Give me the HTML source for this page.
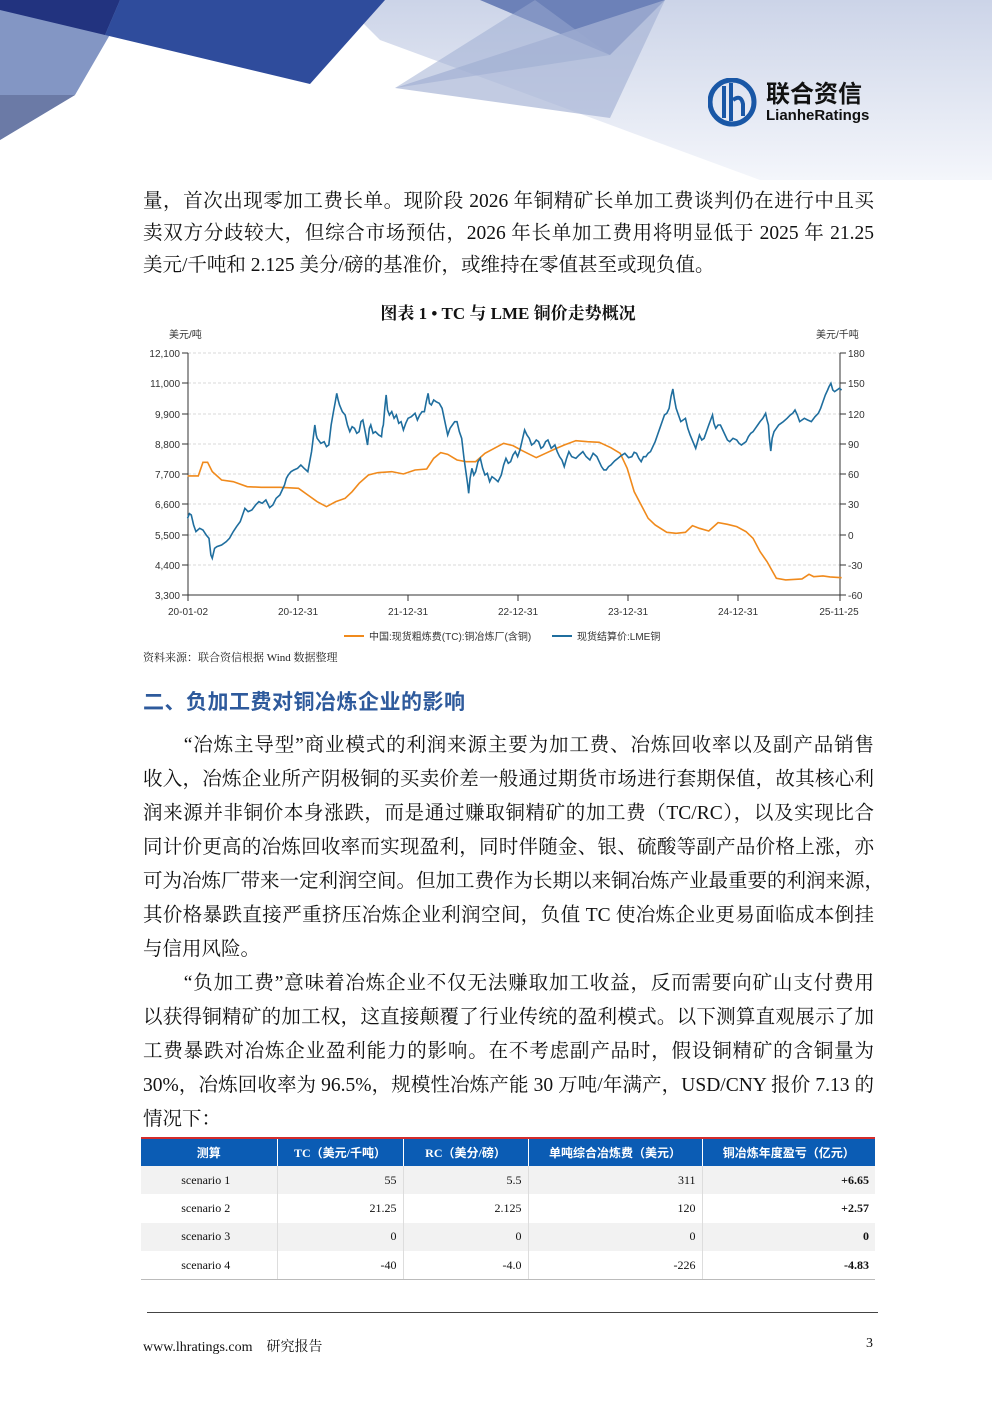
<!DOCTYPE html>
<html><head><meta charset="utf-8"><style>
*{margin:0;padding:0;box-sizing:border-box}
body{width:992px;height:1403px;position:relative;background:#fff;overflow:hidden;font-family:"Liberation Serif","Noto Serif CJK SC",serif;color:#111}
.l{position:absolute;left:143px;width:731px;font-size:19.5px;line-height:34px;height:34px;white-space:nowrap;text-align:justify;text-align-last:justify}
.l.e{text-align-last:left}
.ab{position:absolute}
table{position:absolute;left:141px;top:1137px;width:734px;border-collapse:collapse;font-size:12px;border-top:2px solid #d42b2b}
th{background:#0b5cb4;color:#fff;height:28px;font-weight:bold;border-left:1px solid #fff;font-family:"Liberation Serif","Noto Sans CJK SC",serif}
th:first-child{border-left:none}
td{height:28.4px;text-align:right;padding-right:6px;border-left:1px solid #ddd}
td:first-child{text-align:center;border-left:none}
tr:nth-child(even) td{background:#f2f2f2}
tr:last-child td{border-bottom:1px solid #bbb}
td.b{font-weight:bold}
</style></head><body>
<svg class="ab" style="left:0;top:0" width="992" height="180">
<defs><linearGradient id="bg" x1="0" y1="0" x2="0" y2="1"><stop offset="0" stop-color="#ccd4e8"/><stop offset="1" stop-color="#f4f6fb"/></linearGradient></defs>
<rect width="992" height="180" fill="#fff"/>
<polygon points="340,0 992,0 992,180 760,180 380,40" fill="url(#bg)"/>
<polygon points="0,0 130,0 75,95 0,140" fill="#8396c4"/>
<polygon points="0,0 120,0 105,35 0,10" fill="#22337f"/>
<polygon points="120,0 385,0 310,84 105,35" fill="#2f4c9c"/>
<polygon points="0,95 75,95 0,140" fill="#6b7aa6"/>
<polygon points="480,0 665,0 610,55" fill="#6c81b8"/>
<polygon points="665,0 395,88 610,118" fill="#a8b5d6" opacity="0.7"/>
<polygon points="535,0 610,55 395,88" fill="#9aa9d0" opacity="0.5"/>
</svg>
<svg class="ab" style="left:708px;top:78px" width="50" height="50"><ellipse cx="24" cy="24" rx="22" ry="22" fill="none" stroke="#1957a6" stroke-width="5"/><rect x="14" y="8" width="4" height="32" fill="#1957a6"/><rect x="21" y="5" width="4" height="38" fill="#1957a6"/><path d="M25 22 q8 -6 10 4 v12" fill="none" stroke="#1957a6" stroke-width="4"/></svg>
<div class="ab" style="left:766px;top:78px;font-family:'Noto Sans CJK SC',sans-serif;font-weight:bold;font-size:24px;line-height:28px;color:#111">联合资信</div>
<div class="ab" style="left:766px;top:107px;font-family:'Liberation Sans',sans-serif;font-weight:bold;font-size:15px;color:#111">LianheRatings</div>

<div class="l" style="top:185px">量，首次出现零加工费长单。现阶段 2026 年铜精矿长单加工费谈判仍在进行中且买</div>
<div class="l" style="top:217px">卖双方分歧较大，但综合市场预估，2026 年长单加工费用将明显低于 2025 年 21.25</div>
<div class="l e" style="top:249px">美元/千吨和 2.125 美分/磅的基准价，或维持在零值甚至或现负值。</div>
<div class="ab" style="left:0;width:1016px;top:299px;text-align:center;font-size:17px;font-weight:bold">图表 1 • TC 与 LME 铜价走势概况</div>

<svg class="ab" style="left:0;top:0" width="992" height="680" font-family="Liberation Sans,Noto Sans CJK SC,sans-serif" font-size="10" fill="#333">
<g stroke="#ccc" stroke-dasharray="3,2" stroke-width="0.8">
<line x1="188" x2="840" y1="353" y2="353"/><line x1="188" x2="840" y1="383" y2="383"/><line x1="188" x2="840" y1="414" y2="414"/><line x1="188" x2="840" y1="444" y2="444"/><line x1="188" x2="840" y1="474" y2="474"/><line x1="188" x2="840" y1="504" y2="504"/><line x1="188" x2="840" y1="535" y2="535"/><line x1="188" x2="840" y1="565" y2="565"/></g>
<g stroke="#333" stroke-width="1"><line x1="188" x2="188" y1="353" y2="595"/><line x1="840" x2="840" y1="353" y2="595"/><line x1="188" x2="840" y1="595" y2="595"/>
<path d="M182 353h6M182 383h6M182 414h6M182 444h6M182 474h6M182 504h6M182 535h6M182 565h6M182 595h6M840 353h6M840 383h6M840 414h6M840 444h6M840 474h6M840 504h6M840 535h6M840 565h6M840 595h6M188 595v6M298 595v6M408 595v6M518 595v6M628 595v6M738 595v6M840 595v6"/></g>
<g text-anchor="end"><text x="180" y="357">12,100</text><text x="180" y="387">11,000</text><text x="180" y="418">9,900</text><text x="180" y="448">8,800</text><text x="180" y="478">7,700</text><text x="180" y="508">6,600</text><text x="180" y="539">5,500</text><text x="180" y="569">4,400</text><text x="180" y="599">3,300</text></g>
<g><text x="848" y="357">180</text><text x="848" y="387">150</text><text x="848" y="418">120</text><text x="848" y="448">90</text><text x="848" y="478">60</text><text x="848" y="508">30</text><text x="848" y="539">0</text><text x="848" y="569">-30</text><text x="848" y="599">-60</text></g>
<text x="169" y="338">美元/吨</text><text x="816" y="338">美元/千吨</text>
<g text-anchor="middle"><text x="188" y="615">20-01-02</text><text x="298" y="615">20-12-31</text><text x="408" y="615">21-12-31</text><text x="518" y="615">22-12-31</text><text x="628" y="615">23-12-31</text><text x="738" y="615">24-12-31</text><text x="839" y="615">25-11-25</text></g>
<g transform="translate(140,325) scale(0.4662,0.3333)" fill="none" stroke-width="1.6">
<polyline vector-effect="non-scaling-stroke" stroke="#f08a1c" points="102,453 125,453 135,412 145,412 155,440 175,465 200,470 230,485 260,487 300,487 340,490 360,510 380,530 400,545 420,530 440,520 455,500 470,475 490,450 510,443 540,440 565,447 590,435 615,432 630,400 645,383 660,388 680,405 700,410 720,410 740,385 760,370 780,355 800,362 820,377 850,398 870,385 890,372 910,360 935,347 960,350 985,352 1010,368 1030,385 1045,430 1060,500 1075,540 1090,580 1105,600 1130,622 1150,625 1170,622 1185,602 1200,610 1220,618 1240,593 1260,598 1280,605 1300,620 1315,640 1330,680 1345,710 1365,760 1385,765 1420,762 1435,748 1445,755 1465,753 1480,756 1505,758"/>
<polyline vector-effect="non-scaling-stroke" stroke="#1f6e9e" points="102,580 106,566 110,570 115,600 120,620 128,610 135,615 142,630 148,640 152,690 155,700 160,670 165,665 175,660 185,650 192,640 200,620 207,605 215,590 220,570 225,550 232,560 240,555 248,540 255,530 262,535 270,525 278,548 285,540 292,520 300,510 305,495 310,480 314,460 318,450 324,440 330,435 338,430 345,420 352,430 360,440 368,380 375,300 378,330 380,340 388,355 395,350 400,365 405,360 410,300 415,260 419,230 422,205 425,225 428,240 434,260 440,270 445,300 450,320 455,305 460,310 465,325 470,320 474,290 478,285 483,320 488,360 492,310 495,300 500,325 505,320 512,330 518,335 520,310 522,300 525,250 528,210 531,255 535,270 540,260 545,280 550,270 555,295 560,290 565,315 570,295 575,280 582,275 590,265 595,285 600,270 605,260 610,260 614,230 618,205 621,235 625,240 630,225 635,230 642,235 648,250 654,290 660,330 665,310 670,300 675,290 680,290 685,320 690,340 695,400 700,450 703,480 705,505 708,460 712,430 716,450 720,440 725,410 730,400 735,430 740,450 745,445 750,470 755,455 760,460 768,470 775,450 780,420 785,400 790,415 795,410 800,390 805,380 810,395 815,375 820,345 825,315 830,330 835,340 840,360 845,355 850,345 855,350 860,370 865,365 870,350 875,345 882,370 890,360 895,380 900,395 905,405 910,425 915,400 920,380 926,395 935,400 942,390 950,380 957,395 965,405 972,385 980,395 985,410 990,425 995,435 1000,435 1005,425 1010,420 1018,408 1025,400 1032,392 1040,385 1048,398 1055,395 1060,382 1065,385 1070,400 1075,410 1080,395 1085,395 1090,385 1095,380 1100,365 1105,350 1110,330 1115,310 1120,290 1125,270 1130,265 1135,250 1139,215 1143,192 1146,220 1150,250 1155,270 1160,290 1165,285 1170,280 1175,310 1180,330 1186,350 1192,370 1196,350 1200,330 1205,345 1210,340 1215,320 1220,300 1224,285 1228,270 1231,295 1235,310 1240,300 1245,300 1250,315 1255,330 1260,345 1265,350 1272,340 1280,345 1285,355 1290,360 1295,355 1300,350 1305,335 1310,325 1315,320 1320,310 1325,300 1330,290 1336,280 1342,265 1345,285 1348,300 1350,340 1353,378 1356,340 1360,320 1365,310 1370,300 1375,295 1380,290 1388,280 1395,270 1400,265 1405,255 1410,270 1415,290 1420,285 1425,280 1432,285 1440,290 1448,275 1455,265 1460,250 1465,230 1470,210 1475,195 1478,185 1482,175 1486,195 1490,200 1495,195 1500,190 1505,195"/>
</g>
<line x1="344" x2="364" y1="636" y2="636" stroke="#f08a1c" stroke-width="2"/><text x="369" y="640">中国:现货粗炼费(TC):铜冶炼厂(含铜)</text>
<line x1="552" x2="572" y1="636" y2="636" stroke="#1f6e9e" stroke-width="2"/><text x="577" y="640">现货结算价:LME铜</text>
<text x="143" y="661" font-size="11" fill="#222" font-family="Liberation Serif,Noto Serif CJK SC,serif">资料来源：联合资信根据 Wind 数据整理</text>
</svg>

<div class="ab" style="left:143px;top:686px;font-family:'Noto Sans CJK SC',sans-serif;font-weight:bold;font-size:21px;color:#2e5a9c;letter-spacing:0.5px">二、负加工费对铜冶炼企业的影响</div>

<div class="l" style="top:729px">　　“冶炼主导型”商业模式的利润来源主要为加工费、冶炼回收率以及副产品销售</div>
<div class="l" style="top:763px">收入，冶炼企业所产阴极铜的买卖价差一般通过期货市场进行套期保值，故其核心利</div>
<div class="l" style="top:797px">润来源并非铜价本身涨跌，而是通过赚取铜精矿的加工费（TC/RC），以及实现比合</div>
<div class="l" style="top:831px">同计价更高的冶炼回收率而实现盈利，同时伴随金、银、硫酸等副产品价格上涨，亦</div>
<div class="l" style="top:865px">可为冶炼厂带来一定利润空间。但加工费作为长期以来铜冶炼产业最重要的利润来源，</div>
<div class="l" style="top:899px">其价格暴跌直接严重挤压冶炼企业利润空间，负值 TC 使冶炼企业更易面临成本倒挂</div>
<div class="l e" style="top:933px">与信用风险。</div>
<div class="l" style="top:967px">　　“负加工费”意味着冶炼企业不仅无法赚取加工收益，反而需要向矿山支付费用</div>
<div class="l" style="top:1001px">以获得铜精矿的加工权，这直接颠覆了行业传统的盈利模式。以下测算直观展示了加</div>
<div class="l" style="top:1035px">工费暴跌对冶炼企业盈利能力的影响。在不考虑副产品时，假设铜精矿的含铜量为</div>
<div class="l" style="top:1069px">30%，冶炼回收率为 96.5%，规模性冶炼产能 30 万吨/年满产，USD/CNY 报价 7.13 的</div>
<div class="l e" style="top:1103px">情况下：</div>

<table>
<tr><th style="width:136px">测算</th><th style="width:126px">TC（美元/千吨）</th><th style="width:125px">RC（美分/磅）</th><th style="width:174px">单吨综合冶炼费（美元）</th><th>铜冶炼年度盈亏（亿元）</th></tr>
<tr><td>scenario 1</td><td>55</td><td>5.5</td><td>311</td><td class="b">+6.65</td></tr>
<tr><td>scenario 2</td><td>21.25</td><td>2.125</td><td>120</td><td class="b">+2.57</td></tr>
<tr><td>scenario 3</td><td>0</td><td>0</td><td>0</td><td class="b">0</td></tr>
<tr><td>scenario 4</td><td>-40</td><td>-4.0</td><td>-226</td><td class="b">-4.83</td></tr>
</table>

<div class="ab" style="left:147px;top:1312px;width:731px;height:1px;background:#444"></div>
<div class="ab" style="left:143px;top:1336px;font-size:14px">www.lhratings.com　研究报告</div>
<div class="ab" style="left:866px;top:1336px;font-size:14px">3</div>
</body></html>
